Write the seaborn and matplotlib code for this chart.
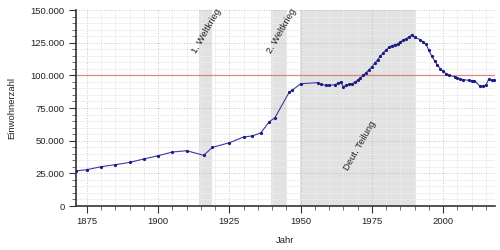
import matplotlib
matplotlib.use("Agg")
import matplotlib.pyplot as plt
from matplotlib.ticker import MultipleLocator, FuncFormatter
import seaborn as sns
import pandas as pd

years = [1871, 1875, 1880, 1885, 1890, 1895, 1900, 1905, 1910, 1916,
         1919, 1925, 1930, 1933, 1936, 1939, 1941, 1946, 1947, 1950,
         1956, 1957, 1959, 1960, 1962, 1963, 1964, 1965, 1966, 1967,
         1968, 1969, 1970, 1971, 1972, 1973, 1974, 1975, 1976, 1977,
         1978, 1979, 1980, 1981, 1982, 1983, 1984, 1985, 1986, 1987,
         1988, 1989, 1990, 1992, 1993, 1994, 1995, 1996, 1997, 1998,
         1999, 2000, 2001, 2002, 2004, 2005, 2006, 2007, 2009, 2010,
         2011, 2013, 2014, 2015, 2016, 2017, 2018]
population = [26800, 27800, 30100, 31600, 33400, 36000, 38500, 41300, 42300, 38800,
              44900, 48400, 52800, 53600, 55900, 64500, 67600, 87200, 88500, 93600,
              94400, 93100, 92300, 92300, 92800, 93900, 94900, 91300, 92300, 93100,
              93600, 94600, 96400, 98200, 100000, 102000, 104300, 106600, 109200, 112000,
              114800, 117300, 119600, 121400, 122700, 123500, 124000, 125500, 127000, 128000,
              129500, 130900, 129100, 127300, 125500, 123700, 119100, 114800, 111200, 107900,
              105100, 103100, 101300, 100000, 99000, 98000, 97200, 96700, 96200, 95900,
              95900, 91600, 91800, 92600, 97000, 96200, 96200]

periods = [(1914.5, 1918.9), (1939.7, 1945.3), (1949.9, 1990.6)]
period_labels = ["1. Weltkrieg", "2. Weltkrieg", "Deut. Teilung"]
label_pos = [(1916.9, 134000), (1943.4, 134000), (1970.8, 46000)]
reference_level = 100000

df = pd.DataFrame({"Jahr": years, "Einwohnerzahl": population})

sns.set_theme(style="white")
plt.rcParams["font.family"] = ["Liberation Sans", "DejaVu Sans"]

fig = plt.figure(figsize=(5, 2.5), dpi=100)
ax = fig.add_axes([0.151, 0.176, 0.839, 0.784])

for (a, b) in periods:
    ax.axvspan(a, b, color="#e2e2e2", zorder=0, lw=0)

ax.set_xlim(1871, 2018.2)
ax.set_ylim(0, 150000)
ax.xaxis.set_major_locator(MultipleLocator(25))
ax.xaxis.set_minor_locator(MultipleLocator(5))
ax.yaxis.set_major_locator(MultipleLocator(25000))
ax.yaxis.set_minor_locator(MultipleLocator(5000))
ax.grid(which="minor", color="#ececec", lw=0.5, ls="-")
ax.grid(which="major", color="#b4b4b4", lw=0.6, ls=(0, (1, 2)))
ax.set_axisbelow(True)

ax.axhline(reference_level, color="#d86060", lw=0.9, alpha=0.7, zorder=2.5)

sns.lineplot(data=df, x="Jahr", y="Einwohnerzahl", ax=ax, color="#3a3aa0",
             lw=0.8, marker="o", markersize=2.3, markeredgewidth=0,
             markerfacecolor="#1a1a80", zorder=3)

for (x, y), t in zip(label_pos, period_labels):
    ax.text(x, y, t, rotation=60, ha="center", va="center", fontsize=6.8,
            color="#222222", zorder=4)

ax.yaxis.set_major_formatter(FuncFormatter(lambda v, p: f"{int(v):,}".replace(",", ".")))

for s in ["top", "right"]:
    ax.spines[s].set_visible(False)
for s in ["left", "bottom"]:
    ax.spines[s].set_color("#333333")
    ax.spines[s].set_linewidth(1.2)

ax.tick_params(which="major", direction="out", length=5, width=0.8,
               color="#333333", labelsize=6.8, labelcolor="#222222",
               bottom=True, left=True, pad=3)
ax.tick_params(which="minor", direction="out", length=3, width=0.6,
               color="#555555", bottom=True, left=True)

ax.set_xlabel("Jahr", fontsize=6.8, color="#222222", labelpad=7)
ax.set_ylabel("Einwohnerzahl", fontsize=6.8, color="#222222", labelpad=10)

fig.savefig("out.png", dpi=100)
